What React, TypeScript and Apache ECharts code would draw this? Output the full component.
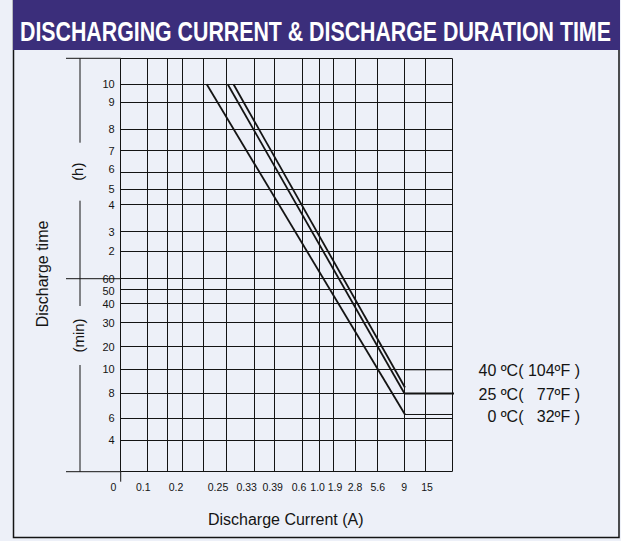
import React, { useEffect, useRef } from 'react';
import * as echarts from 'echarts';

// ---- Axis layout (abstract chart units: x 0..100 across the grid, y 0..100 bottom to top) ----
const xGridPos = [0, 7.94, 14.13, 18.65, 24.99, 31.93, 40.39, 46.27, 54.72, 59.86, 64.23, 70.87, 77.51, 85.66, 92.0, 100];
const xTickPos = [-2.17, 6.82, 16.69, 29.37, 38.03, 45.88, 53.82, 59.43, 64.67, 70.72, 77.57, 85.6, 92.45];
const xTickLabels = ['0', '0.1', '0.2', '0.25', '0.33', '0.39', '0.6', '1.0', '1.9', '2.8', '5.6', '9', '15'];

const yGridPos = [93.71, 89.36, 82.83, 77.65, 72.33, 68.31, 64.59, 58.06, 53.31, 46.69, 44.12, 40.74, 36.04, 30.24, 24.77, 18.96, 12.92, 7.67];
const yTickPos = [93.71, 89.36, 82.83, 77.65, 73.22, 68.31, 64.59, 58.06, 53.31, 46.6, 43.71, 40.5, 36.04, 30.24, 24.77, 18.96, 12.92, 7.67];
const yTickLabels = ['10', '9', '8', '7', '6', '5', '4', '3', '2', '60', '50', '40', '30', '20', '10', '8', '6', '4'];

// ---- Series ----
const seriesNames = ['0 ºC(   32ºF )', '25 ºC(   77ºF )', '40 ºC( 104ºF )'];
const line0C = [[25.96, 93.71], [85.81, 13.84]];
const line25C = [[32.3, 93.71], [85.66, 18.92]];
const line40C = [[34.05, 93.71], [85.81, 20.37]];
const leader0C = [[85.81, 13.84], [109.96, 13.84]];
const leader25C = [[85.66, 18.92], [107.55, 18.92]];
const leader40C = [[85.66, 24.65], [107.85, 24.65]];

const X_MIN = -5;
const X_MAX = 100;
const Y_MIN = 0;
const Y_MAX = 100;

const FONT = '"Liberation Sans", Arial, Helvetica, sans-serif';
const INK = '#141414';
const BG = '#edf0f8';
const TITLE_BG = '#3b2e7b';

function lookup(pos: number[], labels: string[], v: number) {
  for (let i = 0; i < pos.length; i++) {
    if (Math.abs(pos[i] - v) < 1e-6) return labels[i];
  }
  return '';
}

function buildOption() {
  const gridSegments = [
    ...xGridPos.map((p) => ({ coords: [[p, Y_MIN], [p, Y_MAX]] })),
    ...yGridPos.map((p) => ({ coords: [[0, p], [X_MAX, p]] })),
    { coords: [[0, Y_MAX], [X_MAX, Y_MAX]] },
    { coords: [[0, Y_MIN], [X_MAX, Y_MIN]] },
  ];

  const curve = (name: string, data: number[][], width: number) => ({
    type: 'line',
    name,
    data,
    symbol: 'none',
    clip: false,
    silent: true,
    z: 5,
    lineStyle: { color: INK, width },
  });

  const gLine = (x1: number, y1: number, x2: number, y2: number) => ({
    type: 'line',
    silent: true,
    z: 3,
    shape: { x1, y1, x2, y2 },
    style: { stroke: INK, lineWidth: 1 },
  });

  const gText = (text: string, x: number, y: number, fontSize: number, align: string, rotation = 0) => ({
    type: 'text',
    silent: true,
    z: 6,
    x,
    y,
    rotation,
    style: {
      text,
      x: 0,
      y: 0,
      fill: INK,
      font: `${fontSize}px ${FONT}`,
      textAlign: align,
      textVerticalAlign: 'middle',
    },
  });

  return {
    animation: false,
    backgroundColor: BG,
    grid: {
      left: 104.135,
      top: 58.3,
      width: 347.865,
      height: 413.4,
      containLabel: false,
      outerBoundsMode: 'none',
    },
    xAxis: {
      type: 'value',
      min: X_MIN,
      max: X_MAX,
      axisLine: { show: false, onZero: false },
      axisTick: { show: false },
      splitLine: { show: false },
      axisLabel: {
        customValues: xTickPos,
        formatter: (v: number) => lookup(xTickPos, xTickLabels, v),
        fontSize: 10.5,
        fontFamily: FONT,
        color: INK,
        margin: 10,
        showMinLabel: true,
        showMaxLabel: true,
      },
    },
    yAxis: {
      type: 'value',
      min: Y_MIN,
      max: Y_MAX,
      offset: -16.565,
      axisLine: { show: false, onZero: false },
      axisTick: { show: false },
      splitLine: { show: false },
      axisLabel: {
        customValues: yTickPos,
        formatter: (v: number) => lookup(yTickPos, yTickLabels, v),
        fontSize: 11,
        fontFamily: FONT,
        color: INK,
        margin: 6,
        showMinLabel: true,
        showMaxLabel: true,
      },
    },
    series: [
      {
        type: 'lines',
        coordinateSystem: 'cartesian2d',
        silent: true,
        clip: false,
        z: 2,
        polyline: false,
        lineStyle: { color: INK, width: 1, opacity: 1 },
        data: gridSegments,
      },
      curve(seriesNames[0], line0C, 1.8),
      curve(seriesNames[1], line25C, 1.8),
      curve(seriesNames[2], line40C, 1.8),
      curve(seriesNames[0] + ' ', leader0C, 1),
      curve(seriesNames[1] + ' ', leader25C, 2),
      curve(seriesNames[2] + ' ', leader40C, 1),
    ],
    graphic: [
      {
        type: 'rect',
        silent: true,
        z: 1,
        shape: { x: 13.5, y: -2, width: 605.5, height: 539.5 },
        style: { fill: 'none', stroke: INK, lineWidth: 1.5 },
      },
      {
        type: 'rect',
        silent: true,
        z: 2,
        shape: { x: 13, y: 0, width: 607, height: 50 },
        style: { fill: TITLE_BG },
      },
      {
        type: 'text',
        silent: true,
        z: 6,
        x: 20,
        y: 32,
        scaleX: 0.79,
        style: {
          text: 'DISCHARGING CURRENT & DISCHARGE DURATION TIME',
          x: 0,
          y: 0,
          fill: '#ffffff',
          font: `bold 27px ${FONT}`,
          textAlign: 'left',
          textVerticalAlign: 'middle',
        },
      },
      // left bracket of the time axis
      gLine(66, 58.3, 120.7, 58.3),
      gLine(66, 278.7, 120.7, 278.7),
      gLine(66, 471.7, 120.7, 471.7),
      gLine(80, 58.3, 80, 142.7),
      gLine(80, 200.7, 80, 278.7),
      gLine(80, 278.7, 80, 306),
      gLine(80, 365, 80, 471.7),
      gLine(120.7, 471.7, 120.7, 481.7),
      gText('Discharge time', 42.5, 274, 16, 'center', Math.PI / 2),
      gText('(h)', 77.5, 171.7, 15, 'center', Math.PI / 2),
      gText('(min)', 78, 335.5, 15, 'center', Math.PI / 2),
      gText('Discharge Current (A)', 285.7, 519, 16, 'center'),
      gText(seriesNames[2], 580, 370.5, 16, 'right'),
      gText(seriesNames[1], 580, 394, 16, 'right'),
      gText(seriesNames[0], 580, 416, 16, 'right'),
    ],
  };
}

export default function App() {
  const ref = useRef<HTMLDivElement>(null);
  useEffect(() => {
    if (!ref.current) return;
    const chart = echarts.init(ref.current, undefined, { renderer: 'svg', width: 621, height: 541 });
    chart.setOption(buildOption() as any);
    return () => chart.dispose();
  }, []);
  return <div ref={ref} style={{ position: 'fixed', left: 0, top: 0, width: 621, height: 541 }} />;
}
